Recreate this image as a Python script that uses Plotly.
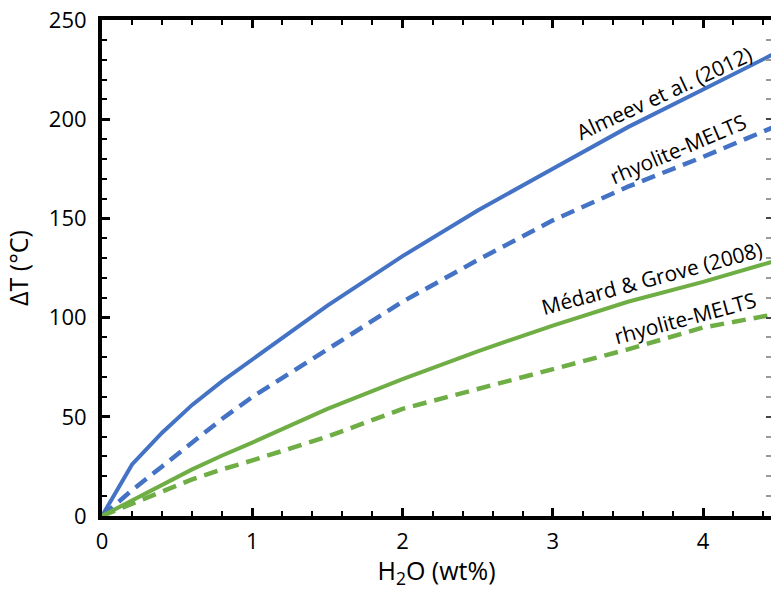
import plotly.graph_objects as go

# H2O content (wt%) at which the liquidus depression was evaluated
h2o = [0, 0.2, 0.4, 0.6, 0.8, 1.0, 1.5, 2.0, 2.5, 3.0, 3.5, 4.0, 4.5]

# Liquidus depression ΔT (°C)
almeev_2012 = [0, 26, 42, 56, 68, 79, 106, 131, 154, 175, 196, 215, 234]
almeev_melts = [0, 13, 25, 37, 49, 60, 84, 108, 129, 149, 166, 181, 197]
medard_grove_2008 = [0, 8, 16, 23.5, 30.5, 37, 54, 69, 83, 96, 108, 118, 129]
medard_melts = [0, 6, 12.5, 18.5, 23.5, 28, 40, 54, 64, 74, 84, 95, 102]

# Curve labels: (text, x, y, angle)
curve_labels = [
    ("Almeev et al. (2012)", 3.74, 213, -25),
    ("rhyolite-MELTS", 3.83, 185, -23),
    ("Médard & Grove (2008)", 3.66, 120, -15),
    ("rhyolite-MELTS", 3.88, 100, -15),
]

BLUE = "#4472C4"
GREEN = "#6FAE45"
FONT = "Open Sans"

fig = go.Figure()
series = [
    (almeev_2012, BLUE, "solid", "y"),
    (almeev_melts, BLUE, "14px,8px", "y"),
    (medard_grove_2008, GREEN, "solid", "y"),
    (medard_melts, GREEN, "14px,8px", "y2"),
]
for ys, color, dash, yax in series:
    fig.add_trace(go.Scatter(
        x=h2o, y=ys, mode="lines", yaxis=yax,
        line=dict(color=color, width=4.5 if dash != "solid" else 4, dash=dash),
        showlegend=False, hoverinfo="skip",
    ))

for text, x, y, ang in curve_labels:
    fig.add_annotation(
        x=x, y=y, text=text, showarrow=False, textangle=ang,
        font=dict(family=FONT, size=21, color="black"),
        xanchor="center", yanchor="middle",
    )

fig.update_layout(
    width=771, height=590,
    margin=dict(l=102, r=0, t=20, b=74),
    paper_bgcolor="white", plot_bgcolor="white",
    font=dict(family=FONT, size=22, color="black"),
    xaxis=dict(
        range=[0, 4.452], showgrid=False, zeroline=False,
        showline=True, linecolor="black", linewidth=4, mirror="ticks",
        ticks="inside", ticklen=8, tickwidth=2.5, tickcolor="black",
        tick0=0, dtick=1, ticklabelstandoff=3,
        minor=dict(ticks="inside", dtick=0.2, ticklen=5, tickwidth=2, tickcolor="black"),
        title=dict(text="H<sub>2</sub>O (wt%)", font=dict(size=25), standoff=6),
    ),
    yaxis=dict(
        range=[0, 250], showgrid=False, zeroline=False,
        showline=True, linecolor="black", linewidth=4, mirror=False,
        ticks="inside", ticklen=8, tickwidth=2.5, tickcolor="black",
        tick0=0, dtick=50, ticklabelstandoff=7,
        minor=dict(ticks="inside", dtick=10, ticklen=5, tickwidth=2, tickcolor="black"),
        title=dict(text="ΔT (°C)", font=dict(size=25), standoff=14),
    ),
    yaxis2=dict(
        range=[0, 250], matches="y", overlaying="y", side="right", showgrid=False,
        zeroline=False, showline=False, showticklabels=False,
        ticks="inside", ticklen=5, tickwidth=2, tickcolor="#444",
        tick0=0, dtick=50,
        minor=dict(ticks="inside", dtick=10, ticklen=5, tickwidth=2, tickcolor="#999"),
    ),
)

fig.write_html("out.html")
